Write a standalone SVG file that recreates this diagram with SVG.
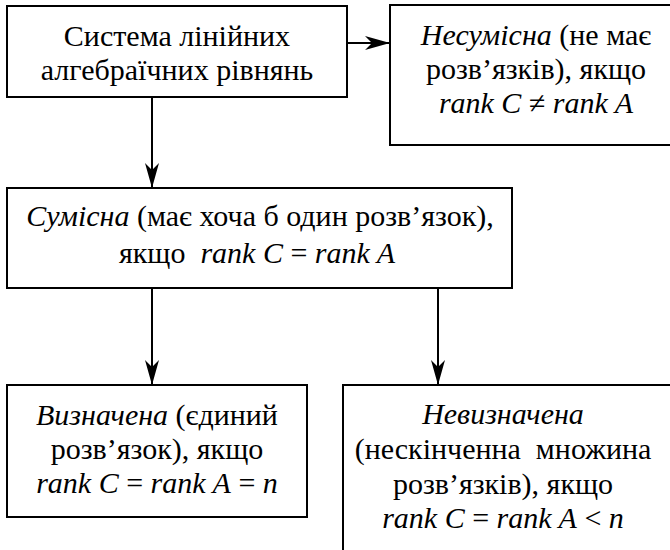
<svg xmlns="http://www.w3.org/2000/svg" width="670" height="550" viewBox="0 0 670 550">
<style>
.box{fill:#fff;stroke:#000;stroke-width:2}
.c{stroke:#000;stroke-width:2;fill:none}
.i{font-style:italic}
</style>
<defs>
<marker id="ah" markerUnits="userSpaceOnUse" markerWidth="26" markerHeight="16" refX="25" refY="7" orient="auto" viewBox="0 0 26 16">
<path d="M0,0 L25,7 L0,14 L7,7 z" fill="#000"/>
</marker>
</defs>
<rect width="670" height="550" fill="#fff"/>
<g id="connectors">
<line class="c" x1="341" y1="43" x2="390" y2="43" marker-end="url(#ah)"/>
<line class="c" x1="152" y1="97" x2="152" y2="188" marker-end="url(#ah)"/>
<line class="c" x1="152" y1="288" x2="152" y2="385" marker-end="url(#ah)"/>
<line class="c" x1="438" y1="288" x2="438" y2="385" marker-end="url(#ah)"/>
</g>
<g font-size="30" text-anchor="middle" fill="#000">
<g id="system">
<rect class="box" x="7" y="6" width="340" height="91"/>
<text style="font-family:Liberation Serif,serif" x="177" y="46">Система лінійних</text>
<text style="font-family:Liberation Serif,serif" x="177" y="80">алгебраїчних рівнянь</text>
</g>
<g id="inconsistent">
<rect class="box" x="390" y="5" width="300" height="140"/>
<text style="font-family:Liberation Serif,serif" x="536" y="45"><tspan class="i">Несумісна</tspan> (не має</text>
<text style="font-family:Liberation Serif,serif" x="536" y="79">розв’язків), якщо</text>
<text style="font-family:Liberation Serif,serif" x="536" y="113"><tspan class="i">rank C</tspan> ≠ <tspan class="i">rank A</tspan></text>
</g>
<g id="consistent">
<rect class="box" x="7" y="188" width="505" height="100"/>
<text style="font-family:Liberation Serif,serif" x="260" y="226"><tspan class="i">Сумісна</tspan> (має хоча б один розв’язок),</text>
<text style="font-family:Liberation Serif,serif" x="257" y="263" xml:space="preserve">якщо  <tspan class="i">rank C</tspan> = <tspan class="i">rank A</tspan></text>
</g>
<g id="determined">
<rect class="box" x="7" y="385" width="300" height="132"/>
<text style="font-family:Liberation Serif,serif" x="157" y="425"><tspan class="i">Визначена</tspan> (єдиний</text>
<text style="font-family:Liberation Serif,serif" x="157" y="459">розв’язок), якщо</text>
<text style="font-family:Liberation Serif,serif" x="157" y="493"><tspan class="i">rank C</tspan> = <tspan class="i">rank A</tspan> = <tspan class="i">n</tspan></text>
</g>
<g id="undetermined">
<rect class="box" x="343" y="385" width="360" height="200"/>
<text style="font-family:Liberation Serif,serif" x="503" y="424" class="i">Невизначена</text>
<text style="font-family:Liberation Serif,serif" x="503" y="459" xml:space="preserve">(нескінченна  множина</text>
<text style="font-family:Liberation Serif,serif" x="503" y="494">розв’язків), якщо</text>
<text style="font-family:Liberation Serif,serif" x="503" y="528"><tspan class="i">rank C</tspan> = <tspan class="i">rank A</tspan> &lt; <tspan class="i">n</tspan></text>
</g>
</g>
</svg>
